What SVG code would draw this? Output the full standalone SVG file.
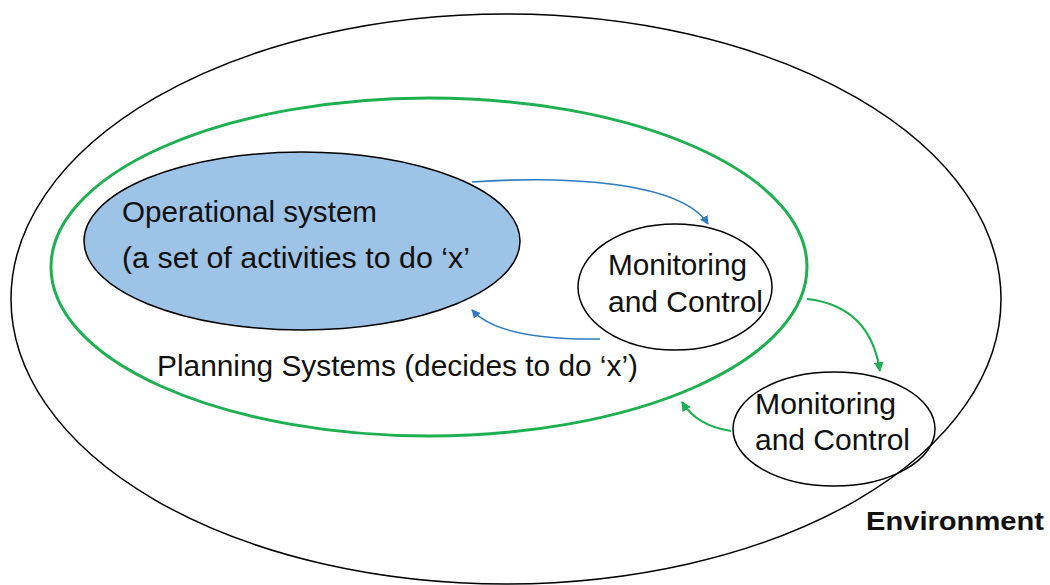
<svg xmlns="http://www.w3.org/2000/svg" width="1050" height="585" viewBox="0 0 1050 585">
<style>
.ln{fill:none;stroke:#000;stroke-width:1.5}
.t{font-family:"Liberation Sans",Arial,sans-serif;font-size:29px;fill:#111}
.b{font-weight:bold;font-size:26px}
.ab{fill:none;stroke:#2e7bc4;stroke-width:1.6}
.ag{fill:none;stroke:#1db050;stroke-width:2.2}
</style>
<defs>
<marker id="mb" viewBox="0 0 10 10" refX="9" refY="5" markerWidth="5.5" markerHeight="5.5" orient="auto" markerUnits="strokeWidth"><path d="M0,0 L10,5 L0,10 z" fill="#2e7bc4"/></marker>
<marker id="mg" viewBox="0 0 10 10" refX="9" refY="5" markerWidth="4.5" markerHeight="4.5" orient="auto" markerUnits="strokeWidth"><path d="M0,0 L10,5 L0,10 z" fill="#1db050"/></marker>
</defs>
<rect width="1050" height="585" fill="#fff"/>
<g id="environment">
<ellipse class="ln" cx="506" cy="299" rx="495" ry="285"/>
<text class="t b" x="866" y="530" textLength="178" lengthAdjust="spacingAndGlyphs">Environment</text>
</g>
<g id="planning">
<ellipse cx="429" cy="267" rx="378" ry="169" fill="none" stroke="#1db050" stroke-width="3"/>
<text class="t" x="157" y="376" textLength="481" lengthAdjust="spacingAndGlyphs">Planning Systems (decides to do ‘x’)</text>
</g>
<g id="operational">
<ellipse cx="302" cy="241" rx="218" ry="89" fill="#9dc3e6" stroke="#000" stroke-width="1.5"/>
<text class="t" x="122" y="222" textLength="255" lengthAdjust="spacingAndGlyphs">Operational system</text>
<text class="t" x="122" y="268" textLength="348" lengthAdjust="spacingAndGlyphs">(a set of activities to do ‘x’</text>
</g>
<g id="monitor1">
<ellipse class="ln" cx="675" cy="287" rx="97" ry="63" fill="#fff"/>
<text class="t" x="608" y="275" textLength="139" lengthAdjust="spacingAndGlyphs">Monitoring</text>
<text class="t" x="608" y="312" textLength="155" lengthAdjust="spacingAndGlyphs">and Control</text>
</g>
<g id="monitor2">
<ellipse class="ln" cx="834" cy="429" rx="101" ry="57" fill="none"/>
<text class="t" x="755" y="414" textLength="141" lengthAdjust="spacingAndGlyphs">Monitoring</text>
<text class="t" x="755" y="450" textLength="155" lengthAdjust="spacingAndGlyphs">and Control</text>
</g>
<g id="connectors">
<path class="ab" d="M472,182 C560,176 680,180 708,224" marker-end="url(#mb)"/>
<path class="ab" d="M600,339 C530,340 490,330 472,310" marker-end="url(#mb)"/>
<path class="ag" d="M807,299 Q870,306 880,371" marker-end="url(#mg)"/>
<path class="ag" d="M731,431 Q697,426 682,402" marker-end="url(#mg)"/>
</g>
</svg>
